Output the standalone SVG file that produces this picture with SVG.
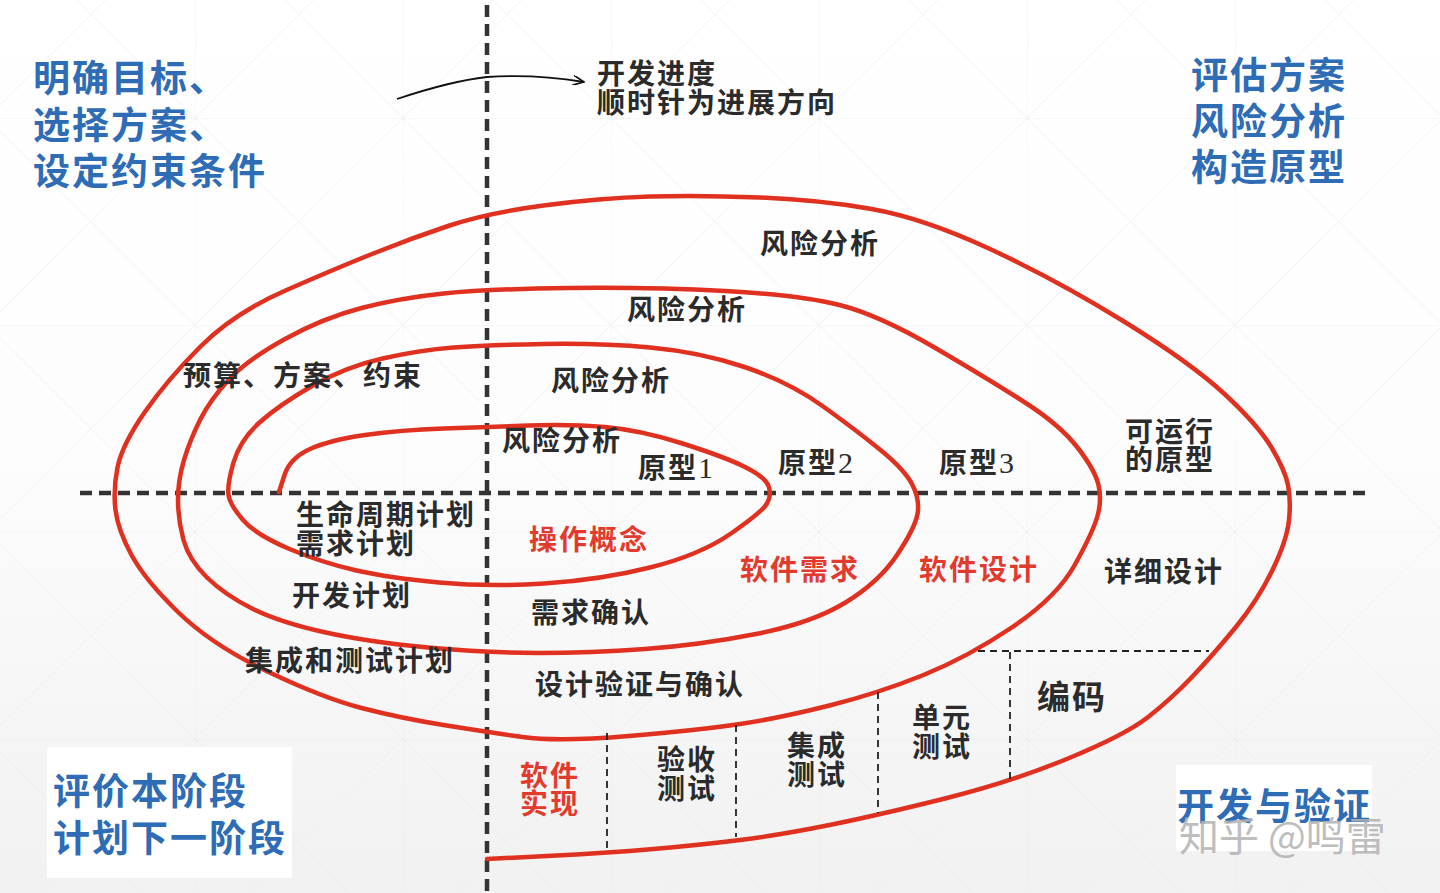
<svg xmlns="http://www.w3.org/2000/svg" width="1440" height="893" viewBox="0 0 1440 893">
<defs>
<linearGradient id="bg" x1="0" y1="0" x2="0" y2="1">
<stop offset="0" stop-color="#ffffff"/>
<stop offset="0.5" stop-color="#fdfdfd"/>
<stop offset="1" stop-color="#f1f1f1"/>
</linearGradient>
<pattern id="grid" x="-13" y="-89" width="208" height="207" patternUnits="userSpaceOnUse">
<path d="M0,0 H208 M0,0 V207 M0,0 L208,207 M208,0 L0,207" fill="none" stroke="#e9e9e9" stroke-width="1"/>
</pattern>
<marker id="open" viewBox="0 0 12 10" refX="11" refY="5" markerWidth="12" markerHeight="10" markerUnits="userSpaceOnUse" orient="auto">
<path d="M0,0 L11,5 L0,10" fill="none" stroke="#111" stroke-width="1.6"/>
</marker>
<style>
.t{font-family:"Noto Sans CJK SC","Noto Sans",sans-serif;font-weight:700;font-size:28px;letter-spacing:2px;fill:#2b2b2b}
.r{fill:#e33a2e}
.b{font-family:"Noto Sans CJK SC","Noto Sans",sans-serif;font-weight:700;font-size:37px;letter-spacing:2px;fill:#2e6cb6}
.d{font-family:"Liberation Serif",serif;font-weight:400;font-size:30px}
.axis{fill:none;stroke:#333;stroke-width:4.5;stroke-dasharray:12 7}
.thin{fill:none;stroke:#222;stroke-width:1.8;stroke-dasharray:7 5}
.spiral{fill:none;stroke:#e0301f;stroke-width:4.5;stroke-linecap:round;stroke-linejoin:round}
.wm{font-family:"Noto Sans CJK SC","Noto Sans",sans-serif;font-weight:400;font-size:40px;fill:#b3b3b3;opacity:0.85}
</style>
</defs>
<rect width="1440" height="893" fill="url(#bg)"/>
<rect width="1440" height="893" fill="url(#grid)" opacity="0.6"/>

<g id="connectors">
<path class="axis" d="M487,5 V893"/>
<path class="axis" d="M80,493 H1372"/>
<path class="spiral" d="M279,492 L284.5,475 Q290,458 310,449 Q330,440 365,435 Q400,430 443.5,428.5 Q487,427 528.5,425.5 Q570,424 605,427 Q640,430 682.5,443.5 Q725,457 745,467 Q765,477 768.5,486 Q772,495 767,503.5 Q762,512 731,533.5 Q700,555 650,567.5 Q600,580 544,583.5 Q488,587 439,582.5 Q390,578 356.5,570.5 Q323,563 289.5,549 Q256,535 243,520 Q230,505 228.5,495 Q227,485 233.5,462.5 Q240,440 259.5,422.5 Q279,405 312,386 Q345,367 382.5,358.5 Q420,350 453.5,347.5 Q487,345 543.5,344 Q600,343 650,347.5 Q700,352 744.5,367 Q789,382 822.5,406 Q856,430 880.5,450 Q905,470 912.5,485 Q920,500 917.5,514 Q915,528 897,555 Q879,582 845.5,602.5 Q812,623 756,634 Q700,645 645,649 Q590,653 539,653 Q488,653 428,647.5 Q368,642 323.5,632 Q279,622 252,608.5 Q225,595 207,577.5 Q189,560 183.5,540 Q178,520 178,500 Q178,480 184,460 Q190,440 200,420 Q210,400 228.5,380 Q247,360 285,339 Q323,318 361.5,308 Q400,298 443.5,293.5 Q487,289 568.5,288 Q650,287 725,291 Q800,295 839.5,305 Q879,315 934.5,347.5 Q990,380 1025,402.5 Q1060,425 1077.5,447.5 Q1095,470 1098.5,485 Q1102,500 1097.5,516 Q1093,532 1075,564.5 Q1057,597 1012.5,627 Q968,657 923.5,675 Q879,693 829.5,705.5 Q780,718 740,724 Q700,730 629,736 Q558,742 522.5,737 Q487,732 443.5,725 Q400,718 361.5,708 Q323,698 267.5,671.5 Q212,645 178.5,612.5 Q145,580 131.5,555 Q118,530 115.5,510 Q113,490 117.5,467.5 Q122,445 144.5,412.5 Q167,380 200.5,346.5 Q234,313 285.5,290.5 Q337,268 374.5,253 Q412,238 449.5,225.5 Q487,213 543.5,205.5 Q600,198 650,196.5 Q700,195 760,197.5 Q820,200 871.5,209 Q923,218 990,249 Q1057,280 1124,321.5 Q1191,363 1224.5,394 Q1258,425 1271.5,447.5 Q1285,470 1288,485 Q1291,500 1289,520 Q1287,540 1272.5,570 Q1258,600 1235.5,627.5 Q1213,655 1191.5,677.5 Q1170,700 1147.5,717.5 Q1125,735 1068,758.5 Q1011,782 945,798.5 Q879,815 829.5,825 Q780,835 740,840 Q700,845 653.5,849 Q607,853 547,856 L487,859"/>
<path d="M397,99 C430,88 460,80 487,77 C530,74 560,78 584,82" fill="none" stroke="#111" stroke-width="1.8" marker-end="url(#open)"/>
<path class="thin" d="M978,651 H1209"/>
<path class="thin" d="M1010,652 V782"/>
<path class="thin" d="M878,692 V813"/>
<path class="thin" d="M736,725 V837"/>
<path class="thin" d="M607,733 V853"/>
</g>

<g id="corner-tl"><text class="b" x="33" y="92">明确目标、</text><text class="b" x="33" y="139">选择方案、</text><text class="b" x="33" y="185">设定约束条件</text></g>
<g id="corner-tr"><text class="b" x="1191" y="89">评估方案</text><text class="b" x="1191" y="135">风险分析</text><text class="b" x="1191" y="181">构造原型</text></g>
<g id="corner-bl"><rect x="47" y="747" width="245" height="131" fill="#ffffff"/><text class="b" x="53" y="805">评价本阶段</text><text class="b" x="53" y="852">计划下一阶段</text></g>
<g id="corner-br"><rect x="1176" y="765" width="196" height="86" fill="#ffffff"/><text class="b" x="1177" y="820">开发与验证</text><text class="wm" x="1179" y="851">知乎 @鸣雷</text></g>

<g id="direction"><text class="t" x="597" y="84">开发进度</text><text class="t" x="597" y="113">顺时针为进展方向</text></g>

<g id="risk4"><text class="t" x="760" y="254">风险分析</text></g>
<g id="risk3"><text class="t" x="627" y="320">风险分析</text></g>
<g id="risk2"><text class="t" x="551" y="391">风险分析</text></g>
<g id="risk1"><text class="t" x="502" y="451">风险分析</text></g>
<g id="budget"><text class="t" x="183" y="386">预算、方案、约束</text></g>
<g id="proto1"><text class="t" x="638" y="478">原型<tspan class="d">1</tspan></text></g>
<g id="proto2"><text class="t" x="778" y="473">原型<tspan class="d">2</tspan></text></g>
<g id="proto3"><text class="t" x="939" y="473">原型<tspan class="d">3</tspan></text></g>
<g id="runnable"><text class="t" x="1125" y="442">可运行</text><text class="t" x="1125" y="470">的原型</text></g>
<g id="lifecycle"><text class="t" x="296" y="525">生命周期计划</text><text class="t" x="296" y="554">需求计划</text></g>
<g id="concept"><text class="t r" x="529" y="550">操作概念</text></g>
<g id="sw-req"><text class="t r" x="740" y="580">软件需求</text></g>
<g id="sw-design"><text class="t r" x="919" y="580">软件设计</text></g>
<g id="detail"><text class="t" x="1104" y="582">详细设计</text></g>
<g id="devplan"><text class="t" x="292" y="606">开发计划</text></g>
<g id="req-confirm"><text class="t" x="531" y="623">需求确认</text></g>
<g id="int-plan"><text class="t" x="245" y="671">集成和测试计划</text></g>
<g id="verify"><text class="t" x="535" y="695">设计验证与确认</text></g>
<g id="coding"><text class="t" x="1037" y="709" style="font-size:33px">编码</text></g>
<g id="unit-test"><text class="t" x="912" y="728">单元</text><text class="t" x="912" y="757">测试</text></g>
<g id="int-test"><text class="t" x="787" y="756">集成</text><text class="t" x="787" y="785">测试</text></g>
<g id="accept-test"><text class="t" x="657" y="770">验收</text><text class="t" x="657" y="799">测试</text></g>
<g id="impl"><text class="t r" x="520" y="786">软件</text><text class="t r" x="520" y="814">实现</text></g>
</svg>
